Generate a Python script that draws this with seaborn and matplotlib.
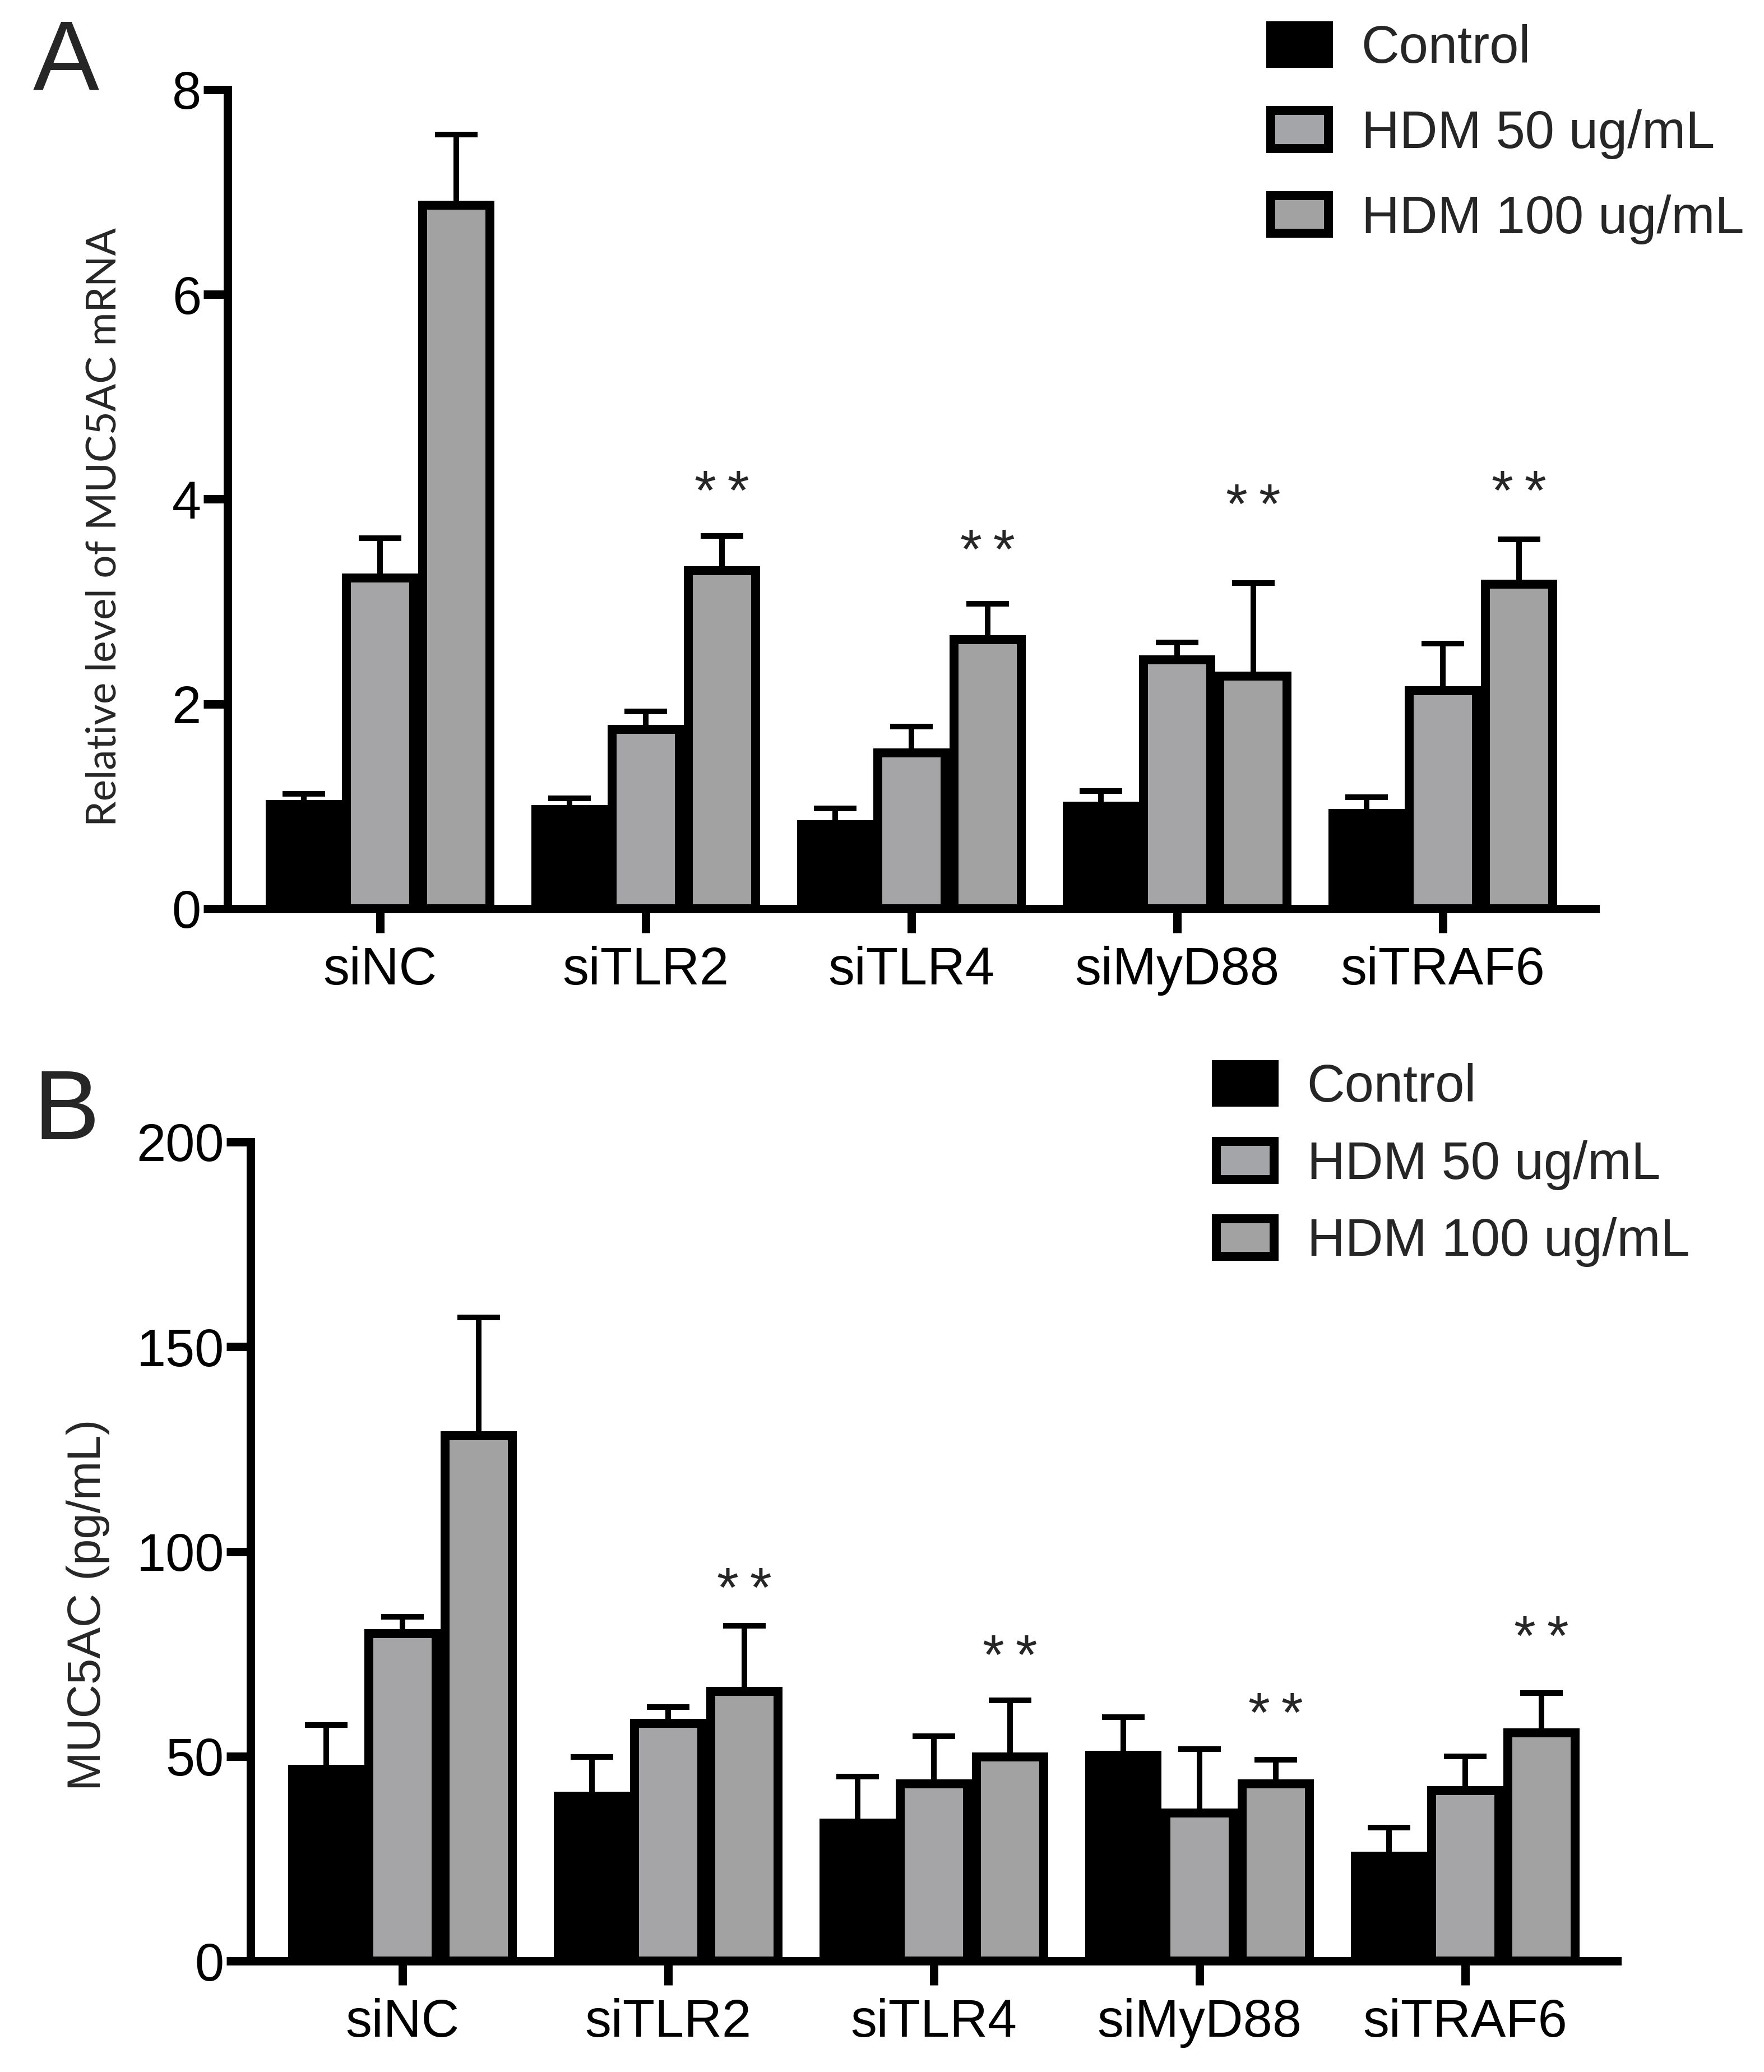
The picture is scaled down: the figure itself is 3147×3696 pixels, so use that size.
import numpy as np
import pandas as pd
import matplotlib
matplotlib.use("Agg")
import matplotlib.pyplot as plt
from matplotlib.patches import Patch
import seaborn as sns

# ---------------- data ----------------
groups = ["siNC", "siTLR2", "siTLR4", "siMyD88", "siTRAF6"]
treatments = ["Control", "HDM 50 ug/mL", "HDM 100 ug/mL"]

# Panel A: relative MUC5AC mRNA (mean, upper error)
a_control = [1.02, 0.97, 0.82, 1.00, 0.93]
a_hdm50 = [3.23, 1.75, 1.52, 2.43, 2.13]
a_hdm100 = [6.87, 3.30, 2.63, 2.27, 3.17]
a_control_err = [0.10, 0.11, 0.16, 0.15, 0.16]
a_hdm50_err = [0.39, 0.18, 0.26, 0.17, 0.46]
a_hdm100_err = [0.69, 0.34, 0.35, 0.91, 0.44]
a_star_groups = ["siTLR2", "siTLR4", "siMyD88", "siTRAF6"]
a_star_y = [4.17, 3.60, 4.04, 4.17]

# Panel B: MUC5AC protein (pg/mL)
b_control = [46.8, 40.3, 33.7, 50.2, 25.6]
b_hdm50 = [79.9, 58.1, 43.2, 36.1, 41.6]
b_hdm100 = [128.2, 65.9, 49.8, 43.2, 55.7]
b_control_err = [10.8, 9.5, 11.3, 9.4, 7.0]
b_hdm50_err = [4.1, 3.9, 11.7, 15.7, 8.3]
b_hdm100_err = [29.0, 16.0, 13.8, 5.9, 9.7]
b_star_groups = ["siTLR2", "siTLR4", "siMyD88", "siTRAF6"]
b_star_y = [93.4, 76.9, 62.8, 81.6]

colors = ["#000000", "#A4A5A9", "#A2A2A2"]

# ---------------- style ----------------
sns.set_style("ticks")
plt.rcParams["font.family"] = ["Liberation Sans", "DejaVu Sans"]

DPI = 300
fig = plt.figure(figsize=(3147 / DPI, 3696 / DPI), dpi=DPI)

SPINE_LW = 3.6
EDGE_LW = 3.84
ERR_LW = 2.4
TICK_FS = 22.5
STAR_FS = 24


def long_df(c, h50, h100):
    rows = []
    for vals, t in zip([c, h50, h100], treatments):
        for g, v in zip(groups, vals):
            rows.append({"group": g, "treatment": t, "value": v})
    return pd.DataFrame(rows)


def draw_panel(ax, c, h50, h100, ce, he50, he100, star_groups, star_y,
               ylim, yticks, xlim):
    df = long_df(c, h50, h100)
    sns.barplot(data=df, x="group", y="value", hue="treatment",
                order=groups, hue_order=treatments, palette=colors,
                width=0.861, gap=0.118, edgecolor="black", linewidth=EDGE_LW,
                errorbar=None, legend=False, ax=ax, zorder=3)
    # bar centres from seaborn's patches, sorted left to right
    bars = sorted([p for p in ax.patches], key=lambda p: p.get_x())
    xs = [p.get_x() + p.get_width() / 2 for p in bars]
    means = []
    errs = []
    for i in range(len(groups)):
        means += [c[i], h50[i], h100[i]]
        errs += [ce[i], he50[i], he100[i]]
    ax.errorbar(xs, means, yerr=[np.zeros(len(errs)), errs], fmt="none",
                ecolor="black", elinewidth=ERR_LW, capsize=9.1,
                capthick=ERR_LW, zorder=2)
    # significance stars above HDM 100 bars
    for g, sy in zip(star_groups, star_y):
        gi = groups.index(g)
        xb = xs[gi * 3 + 2]
        ax.annotate("*\u2009*", xy=(xb, sy), xytext=(0, -0.5 * STAR_FS),
                    textcoords="offset points", ha="center", va="baseline",
                    fontsize=STAR_FS, family=["Liberation Sans", "DejaVu Sans"])
    ax.set_ylim(*ylim)
    ax.set_yticks(yticks)
    ax.set_xlim(*xlim)
    ax.set_xlabel("")
    sns.despine(ax=ax)
    for s in ["left", "bottom"]:
        ax.spines[s].set_linewidth(SPINE_LW)
        ax.spines[s].set_color("black")
    ax.tick_params(axis="both", width=SPINE_LW, length=10.3, color="black",
                   labelsize=TICK_FS, labelcolor="black", direction="out")
    ax.tick_params(axis="y", pad=1)
    ax.tick_params(axis="x", pad=5.5)
    ax.set_facecolor("white")


# ---------------- panel A ----------------
axA = fig.add_axes([406 / 3147, 1 - 1621 / 3696, 2440 / 3147, (1621 - 160) / 3696])
draw_panel(axA, a_control, a_hdm50, a_hdm100, a_control_err, a_hdm50_err,
           a_hdm100_err, a_star_groups, a_star_y, (0, 8), [0, 2, 4, 6, 8],
           (-0.574, 4.574))
axA.set_ylabel("Relative level of MUC5AC mRNA", family=["Lato", "DejaVu Sans"],
               fontsize=17.5)
axA.yaxis.label.set_verticalalignment("center")
axA.yaxis.set_label_coords(-0.0902, 0.466)

# ---------------- panel B ----------------
axB = fig.add_axes([447 / 3147, 1 - 3498 / 3696, 2438 / 3147, (3498 - 2037) / 3696])
draw_panel(axB, b_control, b_hdm50, b_hdm100, b_control_err, b_hdm50_err,
           b_hdm100_err, b_star_groups, b_star_y, (0, 200), [0, 50, 100, 150, 200],
           (-0.572, 4.572))
axB.set_ylabel("MUC5AC (pg/mL)", fontsize=20)
axB.yaxis.label.set_verticalalignment("center")
axB.yaxis.set_label_coords(-0.119, 0.435)

# ---------------- legends ----------------
handles = [Patch(facecolor=col, edgecolor="black", linewidth=EDGE_LW) for col in colors]
legA = fig.legend(handles, treatments, loc="upper left",
                  bbox_to_anchor=(2266.5 / 3147, 1 - 43 / 3696),
                  bbox_transform=fig.transFigure, frameon=False, borderpad=0,
                  borderaxespad=0, fontsize=22.5, handlelength=1.109,
                  handleheight=0.725, handletextpad=0.62, labelspacing=0.67)
legB = fig.legend(handles, treatments, loc="upper left",
                  bbox_to_anchor=(2169.5 / 3147, 1 - 1896 / 3696),
                  bbox_transform=fig.transFigure, frameon=False, borderpad=0,
                  borderaxespad=0, fontsize=22.5, handlelength=1.109,
                  handleheight=0.725, handletextpad=0.62, labelspacing=0.52)

# ---------------- panel letters ----------------
fig.text(59 / 3147, 1 - 161 / 3696, "A", fontsize=42.5, ha="left", va="baseline")
fig.text(60 / 3147, 1 - 2032 / 3696, "B", fontsize=42.5, ha="left", va="baseline")

fig.savefig("out.png", dpi=DPI, facecolor="white")
